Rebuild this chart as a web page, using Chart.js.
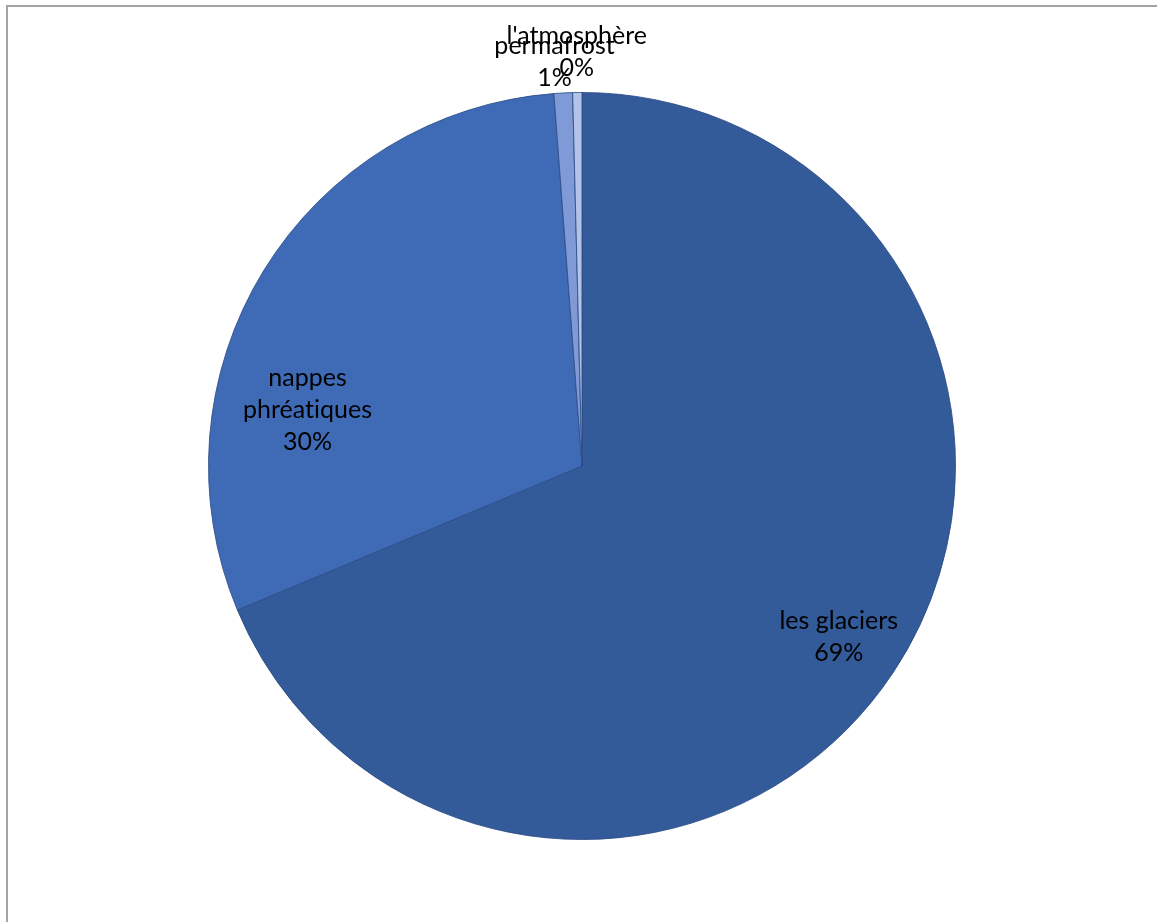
<!DOCTYPE html>
<html>
<head>
<meta charset="utf-8">
<script src="https://cdn.jsdelivr.net/npm/chart.js@4/dist/chart.umd.min.js"></script>
<style>
  html,body{margin:0;padding:0;background:#fff;}
  #wrap{position:relative;width:1157px;height:922px;}
</style>
</head>
<body>
<div id="wrap"><canvas id="pie" width="1157" height="922"></canvas></div>
<script>
// DATA
const categories = ['les glaciers', 'nappes phréatiques', 'permafrost', "l'atmosphère"];
const shares = [68.7, 30.1, 0.8, 0.4];
// \u200C keeps Lato from joining "ti"
const labelLines = [['les glaciers'], ['nappes', 'phréat\u200Ciques'], ['permafrost'], ["l'atmosphère"]];
const sliceColors = ['#335a99', '#3f6ab6', '#7f9ad6', '#b3c3e7'];

// label placement: fraction of radius + angle shift (deg) for each slice
const labelPlace = [
  {r: 0.826, shift: 0},
  {r: 0.75, shift: -20},
  {r: 1.085, shift: -1},
  {r: 1.11, shift: 0}
];

const frame = {
  id: 'frame',
  beforeDraw(chart){
    const c = chart.ctx;
    c.save();
    c.fillStyle = '#a3a3a3';
    c.fillRect(6, 5, chart.width - 6, 2);
    c.fillRect(6, 5, 2, chart.height - 5);
    c.restore();
  }
};

const sliceLabels = {
  id: 'sliceLabels',
  afterDatasetsDraw(chart){
    const c = chart.ctx;
    const meta = chart.getDatasetMeta(0);
    const total = shares.reduce((a, b) => a + b, 0);
    c.save();
    c.font = '25px Lato, "Open Sans", sans-serif';
    c.fillStyle = '#000';
    c.textAlign = 'center';
    c.textBaseline = 'middle';
    meta.data.forEach((arc, i) => {
      const p = arc.getProps(['x', 'y', 'startAngle', 'endAngle', 'outerRadius']);
      const mid = (p.startAngle + p.endAngle) / 2 + labelPlace[i].shift * Math.PI / 180;
      const rr = p.outerRadius * labelPlace[i].r;
      const cx = p.x + Math.cos(mid) * rr;
      const cy = p.y + Math.sin(mid) * rr;
      const lines = labelLines[i].concat([Math.round(shares[i] / total * 100) + '%']);
      const lh = 32;
      const top = cy - (lines.length - 1) * lh / 2;
      lines.forEach((t, k) => c.fillText(t, cx, top + k * lh));
    });
    c.restore();
  }
};

new Chart(document.getElementById('pie'), {
  type: 'pie',
  data: {
    labels: categories,
    datasets: [{
      data: shares,
      backgroundColor: sliceColors,
      borderColor: 'rgba(44,76,134,0.85)',
      borderWidth: 1
    }]
  },
  options: {
    responsive: false,
    animation: false,
    layout: {padding: {left: 7, right: 0, top: 92, bottom: 82}},
    plugins: {legend: {display: false}, tooltip: {enabled: false}}
  },
  plugins: [frame, sliceLabels]
});
</script>
</body>
</html>
